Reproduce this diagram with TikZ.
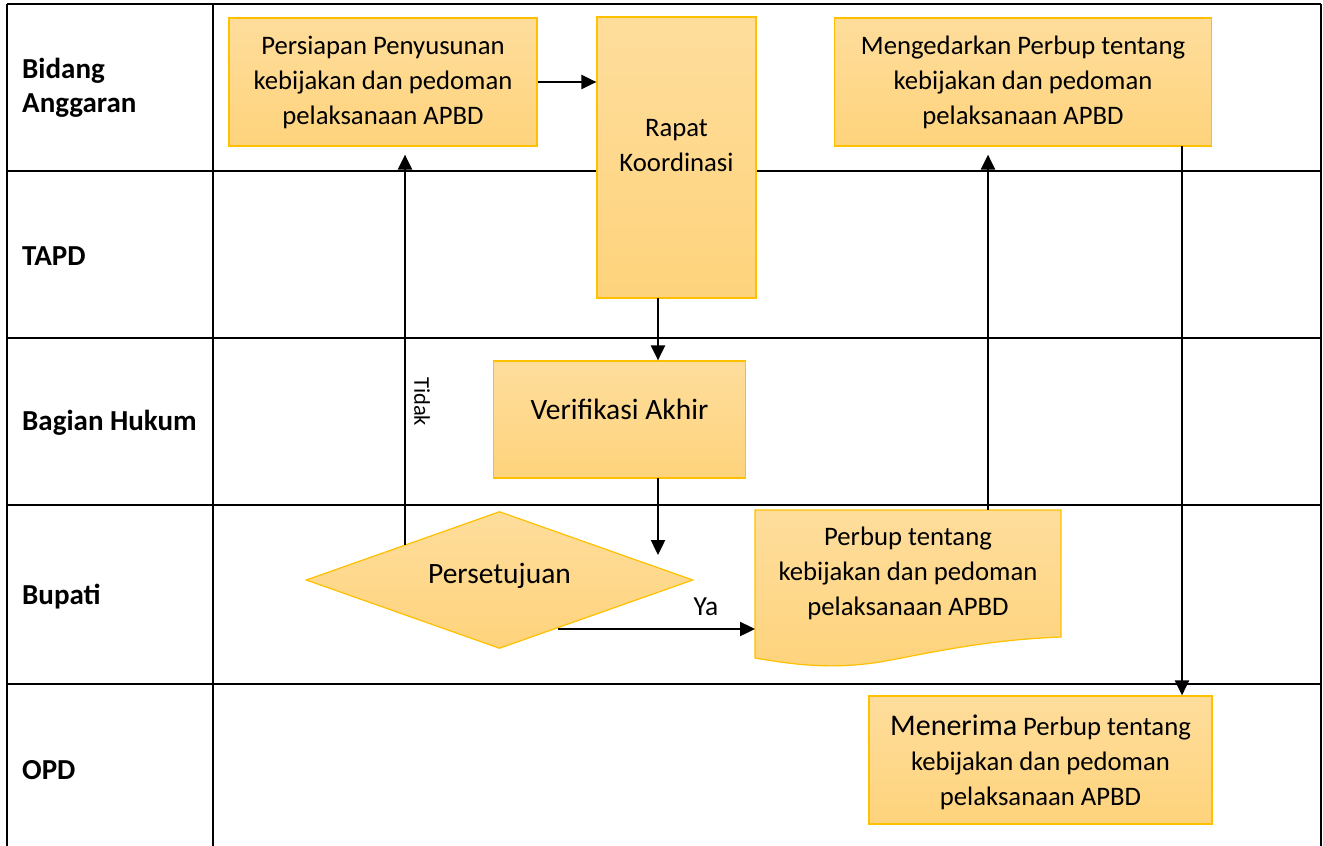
\documentclass[tikz,border=0pt]{standalone}
\usepackage{fontspec}
\setmainfont{Carlito}
\usetikzlibrary{shapes.geometric,arrows.meta}
\definecolor{boxtop}{RGB}{254,221,156}
\definecolor{boxbot}{RGB}{254,211,124}
\definecolor{boxline}{RGB}{255,192,0}
\tikzset{
  lane/.style={line width=2.6pt, black},
  lanelabel/.style={anchor=west, font=\bfseries\fontsize{29}{34}\selectfont, align=left, inner sep=0pt},
  procbox/.style={rectangle, draw=boxline, line width=1.2pt, top color=boxtop, bottom color=boxbot,
    inner sep=0pt},
  decbox/.style={diamond, draw=boxline, line width=1.2pt, top color=boxtop, bottom color=boxbot,
    inner sep=0pt, aspect=2.82, minimum width=387pt, minimum height=137pt},
  boxtext/.style={align=center, inner sep=0pt, font=\fontsize{26.7}{35}\selectfont},
  bigtext/.style={inner sep=0pt, font=\fontsize{29.5}{35}\selectfont},
  arr/.style={line width=2.4pt, -{Triangle[length=15pt, width=14pt]}},
  edgelabel/.style={inner sep=0pt, font=\fontsize{22.5}{26}\selectfont},
}
\begin{document}
\begin{tikzpicture}[x=1pt, y=-1pt]
\useasboundingbox (0,0) rectangle (1323,846);
\clip (0,0) rectangle (1323,846);

% swimlane grid
\draw[lane] (7,4) -- (1321,4);
\draw[lane] (7,4) -- (7,860);
\draw[lane] (1321,4) -- (1321,860);
\draw[lane] (213,4) -- (213,860);
\foreach \yy in {171,338,505,684} \draw[lane] (7,\yy) -- (1321,\yy);

% lane titles
\node[lanelabel] (l1) at (22,88) {Bidang\\Anggaran};
\node[lanelabel] (l2) at (22,256) {TAPD};
\node[lanelabel] (l3) at (22,423) {Bagian Hukum};
\node[lanelabel] (l4) at (22,597) {Bupati};
\node[lanelabel] (l5) at (22,770) {OPD};

% process steps
\node[procbox, minimum width=308pt, minimum height=128pt] (persiapan) at (383,82) {};
\node[boxtext] (persiapanT) at (persiapan) {Persiapan Penyusunan\\kebijakan dan pedoman\\pelaksanaan APBD};

\node[procbox, minimum width=159pt, minimum height=281pt] (rapat) at (676.5,157.5) {};
\node[boxtext] (rapatT) at (676.5,146) {Rapat\\Koordinasi};

\node[procbox, minimum width=377pt, minimum height=128pt] (edar) at (1023,82) {};
\node[boxtext] (edarT) at (edar) {Mengedarkan Perbup tentang\\kebijakan dan pedoman\\pelaksanaan APBD};

\node[procbox, minimum width=252pt, minimum height=117pt] (verif) at (619.5,419.5) {};
\node[bigtext] (verifT) at (619.5,409) {Verifikasi Akhir};

\node[decbox] (setuju) at (499.5,580) {};
\node[bigtext] (setujuT) at (499.5,576) {Persetujuan};

% document shape with wavy lower edge
\path[draw=boxline, line width=1.2pt, top color=boxtop, bottom color=boxbot]
  (755,510) -- (1061,510) -- (1061,637)
  .. controls (985,640) and (935,652) .. (880,662)
  .. controls (830,670) and (790,664) .. (755,658) -- cycle;
\node[boxtext] (perbup) at (908,573) {Perbup tentang\\kebijakan dan pedoman\\pelaksanaan APBD};
\coordinate (perbupW) at (755,629);
\coordinate (perbupN) at (988,510);

\node[procbox, minimum width=343pt, minimum height=128pt] (terima) at (1040.5,760) {};
\node[boxtext] (terimaT) at (1040.5,762) {{\fontsize{30}{35}\selectfont Menerima} Perbup tentang\\kebijakan dan pedoman\\pelaksanaan APBD};

% connector end points
\coordinate (rapatS) at (658,298);
\coordinate (verifS) at (658,478);
\coordinate (setujuN) at (658,555);
\coordinate (tidakStart) at (405,545);
\coordinate (yaStart) at (558,629);
\coordinate (edarS) at (1182,146);

% connectors
\draw[arr] (persiapan.east) -- (rapat.west |- persiapan.east);
\draw[arr] (rapatS) -- (rapatS |- verif.north);
\draw[arr] (verifS) -- (setujuN);
\draw[arr, shorten >=8pt] (tidakStart) -- (tidakStart |- persiapan.south)
  node[pos=0.36, right=8pt, edgelabel, rotate=-90, anchor=south] (tidak) {Tidak};
\draw[arr] (yaStart) -- (perbupW);
\node[edgelabel, font=\fontsize{27.5}{30}\selectfont] (ya) at (706,607) {Ya};
\draw[arr, shorten >=8pt] (perbupN) -- (perbupN |- edar.south);
\draw[arr] (edarS) -- (edarS |- terima.north);
\end{tikzpicture}
\end{document}
